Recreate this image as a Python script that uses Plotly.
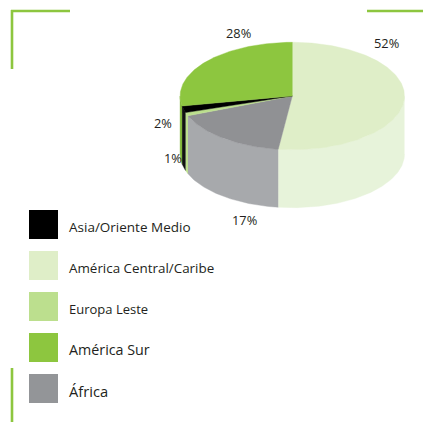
import numpy as np
import plotly.graph_objects as go

# Data
categories = ["Asia/Oriente Medio", "América Central/Caribe", "Europa Leste", "América Sur", "África"]
values = [2, 52, 1, 28, 17]
labels = ["2%", "52%", "1%", "28%", "17%"]
top_colors = ["#000000", "#DFEEC8", "#BCDF8E", "#8DC63F", "#939598"]
face_colors = ["#000000", "#DFEEC8", "#BCDF8E", "#8DC63F", "#909194"]
wall_colors = ["#111111", "#E7F3DA", "#BCDF8E", "#7FB536", "#A7A9AC"]
slice_order = [1, 4, 2, 0, 3]  # clockwise from 12 o'clock

# Layout geometry (pixels)
W, H = 423, 422
CX, CY, RX, RY, DEPTH = 292.3, 96.0, 112.2, 53.7, 58.0
GREEN = "#8DC63F"
INK = "#231F20"
label_pos = [(163, 123), (386, 43), (173, 157.5), (238, 33), (244, 220)]
legend_y = [210, 251, 292, 333, 374]
legend_font = [13.5, 13.4, 13.0, 14.3, 14.7]


def arc(t0, t1, dy=0.0):
    t = np.radians(np.linspace(t0, t1, max(int(abs(t1 - t0)) + 2, 3)))
    return CX + RX * np.sin(t), CY - RY * np.cos(t) + dy


fig = go.Figure()


def poly(x, y, color):
    fig.add_trace(go.Scatter(
        x=list(x), y=list(y), mode="lines", fill="toself", fillcolor=color,
        line=dict(color=color, width=0.4), hoverinfo="skip", showlegend=False))


# Cumulative angle per slice
total = sum(values)
spans = {}
acc = 0.0
for i in slice_order:
    spans[i] = (acc, acc + values[i] / total * 360)
    acc = spans[i][1]

# Outer wall (only the front half, 90..270 degrees, is visible)
for i in slice_order:
    t0, t1 = max(spans[i][0], 90), min(spans[i][1], 270)
    if t1 <= t0:
        continue
    xt, yt = arc(t0, t1)
    xb, yb = arc(t1, t0, DEPTH)
    poly(np.r_[xt, xb], np.r_[yt, yb], wall_colors[i])

# Top face
for i in slice_order:
    xa, ya = arc(*spans[i])
    poly(np.r_[CX, xa, CX], np.r_[CY, ya, CY], face_colors[i])

# Percentage labels
anns = []
for lab, (x, y) in zip(labels, label_pos):
    anns.append(dict(x=x, y=y, text=lab, showarrow=False, xref="x", yref="y",
                     font=dict(family="Open Sans", size=12.8, color=INK)))

# Legend
shapes = []
for name, col, y, fs in zip(categories, top_colors, legend_y, legend_font):
    shapes.append(dict(type="rect", x0=29, x1=58, y0=y, y1=y + 29, xref="x", yref="y",
                       fillcolor=col, line=dict(width=0)))
    anns.append(dict(x=67, y=y + 16.5, text=name, showarrow=False, xanchor="left", xref="x", yref="y",
                     font=dict(family="Open Sans", size=fs, color=INK)))

# Corner decoration
for x0, y0, x1, y1 in [(11, 11, 70, 11), (12, 10, 12, 69), (367, 11, 423, 11), (12, 368, 12, 422)]:
    shapes.append(dict(type="line", x0=x0, y0=y0, x1=x1, y1=y1, xref="x", yref="y",
                       line=dict(color=GREEN, width=2.6)))

fig.update_layout(
    width=W, height=H, margin=dict(l=0, r=0, t=0, b=0),
    paper_bgcolor="white", plot_bgcolor="white", showlegend=False,
    xaxis=dict(range=[0, W], visible=False, fixedrange=True),
    yaxis=dict(range=[H, 0], visible=False, fixedrange=True),
    shapes=shapes, annotations=anns,
)
fig.write_html("out.html", config={"displayModeBar": False},
               post_script="document.body.style.margin='0';document.body.style.overflow='hidden';")
